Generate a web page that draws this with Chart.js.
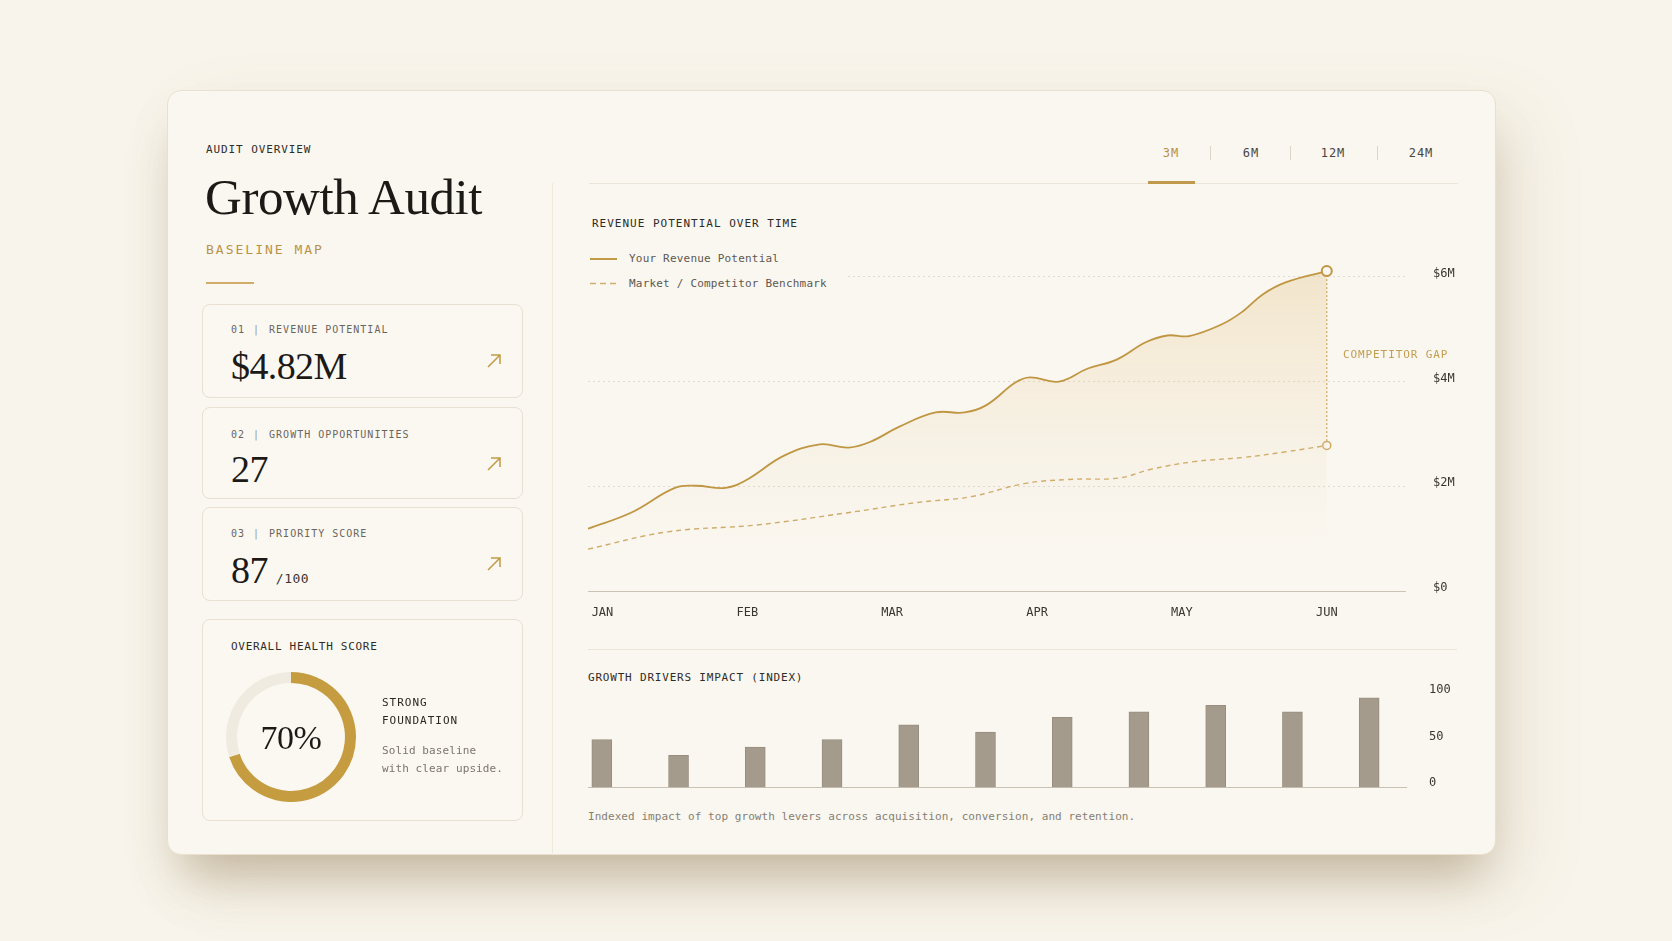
<!DOCTYPE html>
<html>
<head>
<meta charset="utf-8">
<title>Growth Audit</title>
<script src="https://cdn.jsdelivr.net/npm/chart.js@4.4.1/dist/chart.umd.min.js"></script>
<style>
  html, body { margin: 0; padding: 0; }
  body {
    width: 1672px; height: 941px; position: relative; overflow: hidden;
    background: #f8f4eb;
    font-family: "DejaVu Sans Mono", monospace;
    color: #2f2c27;
  }
  .abs { position: absolute; white-space: nowrap; }
  .card {
    position: absolute; left: 167px; top: 90px; width: 1329px; height: 765px;
    background: #faf7f0; border: 1px solid #e9e1cf; border-radius: 14px; box-sizing: border-box;
    box-shadow: 0 34px 46px -14px rgba(120, 95, 50, 0.36), 24px 26px 70px rgba(150, 120, 70, 0.12);
  }
  .mono11 { font-size: 11px; line-height: 14px; letter-spacing: 0.9px; }
  .serif { font-family: "Liberation Serif", "DejaVu Serif", serif; line-height: 1; color: #1c1a17; }
  .box {
    position: absolute; left: 202px; width: 321px; box-sizing: border-box;
    border: 1px solid #e8e0d0; border-radius: 8px; background: #fbf8f2;
  }
  .box .lbl { position: absolute; left: 28px; font-size: 10px; line-height: 14px; letter-spacing: 1px; color: #6b655c; }
  .box .lbl .sep { margin: 0 9px 0 8px; color: #9a9388; }
  .box .val { position: absolute; left: 28px; font-size: 38px; letter-spacing: -0.6px; }
  .box svg { position: absolute; left: 283px; }
  .tab { position: absolute; top: 146px; font-size: 12px; line-height: 14px; letter-spacing: 1px; color: #4a463f; transform: translateX(-50%); }
  .tsep { position: absolute; top: 146px; width: 1px; height: 14px; background: #ddd5c6; }
  .hrule { position: absolute; height: 1px; background: #ebe5d9; }
</style>
</head>
<body>
<div class="card"></div>

<!-- left column -->
<div class="abs mono11" style="left:206px; top:143px;">AUDIT OVERVIEW</div>
<div class="abs serif" style="left:205px; top:172px; font-size:51px; letter-spacing:-0.4px;">Growth Audit</div>
<div class="abs" style="left:206px; top:242px; font-size:13px; line-height:16px; letter-spacing:2px; color:#b8934a;">BASELINE MAP</div>
<div class="abs" style="left:206px; top:282px; width:48px; height:2px; background:#cfad68;"></div>

<div class="box" style="top:304px; height:94px;">
  <div class="lbl" style="top:18px;">01<span class="sep">|</span>REVENUE POTENTIAL</div>
  <div class="val serif" style="top:42px;">$4.82M</div>
  <svg width="16" height="16" style="top:48px;" viewBox="0 0 16 16"><path d="M2 14 L14 2 M5 2 H14 V11" fill="none" stroke="#c29a45" stroke-width="1.5"/></svg>
</div>
<div class="box" style="top:407px; height:92px;">
  <div class="lbl" style="top:20px;">02<span class="sep">|</span>GROWTH OPPORTUNITIES</div>
  <div class="val serif" style="top:42px;">27</div>
  <svg width="16" height="16" style="top:48px;" viewBox="0 0 16 16"><path d="M2 14 L14 2 M5 2 H14 V11" fill="none" stroke="#c29a45" stroke-width="1.5"/></svg>
</div>
<div class="box" style="top:507px; height:94px;">
  <div class="lbl" style="top:19px;">03<span class="sep">|</span>PRIORITY SCORE</div>
  <div class="val serif" style="top:43px;">87<span style="font-family:'DejaVu Sans Mono',monospace; font-size:13px; letter-spacing:0.5px; margin-left:8px; color:#3a362f;">/100</span></div>
  <svg width="16" height="16" style="top:48px;" viewBox="0 0 16 16"><path d="M2 14 L14 2 M5 2 H14 V11" fill="none" stroke="#c29a45" stroke-width="1.5"/></svg>
</div>
<div class="box" style="top:619px; height:202px;">
  <div class="abs mono11" style="left:28px; top:20px; letter-spacing:0.7px;">OVERALL HEALTH SCORE</div>
  <canvas id="healthChart" width="130" height="130" style="position:absolute; left:23px; top:52px;"></canvas>
  <div class="abs serif" style="left:23px; width:130px; text-align:center; top:101px; font-size:34px; letter-spacing:-0.5px;">70%</div>
  <div class="abs mono11" style="left:179px; top:74px; letter-spacing:1px; color:#2b2823; line-height:18px;">STRONG<br>FOUNDATION</div>
  <div class="abs" style="left:179px; top:122px; font-size:11px; line-height:18px; letter-spacing:0.1px; color:#7b756b;">Solid baseline<br>with clear upside.</div>
</div>

<!-- divider -->
<div class="abs" style="left:552px; top:183px; width:1px; height:672px; background:#efe9de;"></div>

<!-- tabs -->
<div class="tab" style="left:1171px; color:#b8913e;">3M</div>
<div class="tsep" style="left:1210px;"></div>
<div class="tab" style="left:1251px;">6M</div>
<div class="tsep" style="left:1290px;"></div>
<div class="tab" style="left:1333px;">12M</div>
<div class="tsep" style="left:1377px;"></div>
<div class="tab" style="left:1421px;">24M</div>
<div class="hrule" style="left:589px; top:183px; width:869px;"></div>
<div class="abs" style="left:1148px; top:181px; width:47px; height:3px; background:#c09a4c;"></div>

<!-- revenue chart -->
<div class="abs mono11" style="left:592px; top:217px; letter-spacing:1px;">REVENUE POTENTIAL OVER TIME</div>
<canvas id="revenueChart" width="882" height="392" style="position:absolute; left:588px; top:233px;"></canvas>
<div class="abs" style="left:588px; top:249px; width:258px; height:44px; background:#faf7f0;">
  <div class="abs" style="left:2px; top:9px; width:27px; height:2px; background:#c29a45;"></div>
  <div class="abs" style="left:41px; top:3px; font-size:11px; line-height:14px; letter-spacing:0.2px; color:#5d5850;">Your Revenue Potential</div>
  <svg class="abs" style="left:2px; top:33px;" width="28" height="3"><line x1="0" y1="1.5" x2="28" y2="1.5" stroke="#d1ae6e" stroke-width="1.5" stroke-dasharray="6 4"/></svg>
  <div class="abs" style="left:41px; top:28px; font-size:11px; line-height:14px; letter-spacing:0.2px; color:#5d5850;">Market / Competitor Benchmark</div>
</div>
<div class="abs mono11" style="left:1343px; top:348px; color:#c39d50;">COMPETITOR GAP</div>

<!-- drivers chart -->
<div class="hrule" style="left:588px; top:649px; width:869px;"></div>
<div class="abs mono11" style="left:588px; top:671px; letter-spacing:0.8px;">GROWTH DRIVERS IMPACT (INDEX)</div>
<canvas id="driversChart" width="882" height="118" style="position:absolute; left:588px; top:677px;"></canvas>
<div class="abs" style="left:588px; top:810px; font-size:11px; line-height:14px; letter-spacing:0.05px; color:#857f75;">Indexed impact of top growth levers across acquisition, conversion, and retention.</div>

<script>
// ---- data ----
const months = ['JAN', 'FEB', 'MAR', 'APR', 'MAY', 'JUN'];

// revenue potential ($M), sampled along the month axis (0 = JAN ... 5 = JUN)
const revenueTimes = [-0.1, 0.2, 0.5, 0.65, 0.85, 1.0, 1.25, 1.5, 1.7, 1.85, 2.05, 2.3, 2.5, 2.65,
  2.85, 2.95, 3.15, 3.35, 3.55, 3.75, 3.9, 4.05, 4.28, 4.42, 4.56, 4.72, 5.0];
const revenue = [1.19, 1.50, 1.97, 2.01, 1.97, 2.13, 2.58, 2.80, 2.74, 2.85, 3.14, 3.41, 3.41, 3.55,
  3.98, 4.08, 4.00, 4.25, 4.42, 4.75, 4.88, 4.87, 5.10, 5.34, 5.67, 5.90, 6.11];

// market / competitor benchmark ($M)
const benchmarkTimes = [-0.1, 0.45, 1.06, 1.68, 2.17, 2.54, 2.91, 3.21, 3.57, 3.78, 4.08, 4.42, 4.72, 5.0];
const benchmark = [0.80, 1.13, 1.26, 1.49, 1.69, 1.80, 2.05, 2.13, 2.16, 2.32, 2.47, 2.55, 2.66, 2.78];

const revenueTicks = [0, 2, 4, 6];

// growth drivers impact index
const driverImpact = [52, 35, 44, 52, 68, 60, 76, 82, 89, 82, 97];

// overall health score
const healthScore = 70;

const GOLD = '#c09643';
const CARD = '#faf7f0';
const monoFont = { family: 'DejaVu Sans Mono', size: 12 };

Chart.defaults.animation = false;
Chart.defaults.font.family = 'DejaVu Sans Mono';
Chart.defaults.plugins.legend.display = false;
Chart.defaults.plugins.tooltip.enabled = false;

// ---- health donut ----
new Chart(document.getElementById('healthChart'), {
    type: 'doughnut',
    data: {
        datasets: [{
            data: [healthScore, 100 - healthScore],
            backgroundColor: ['#c59c40', '#f0ebe0'],
            borderWidth: 0
        }]
    },
    options: {
        responsive: false,
        cutout: '83%',
        events: []
    }
});

// ---- revenue chart ----
// dotted "competitor gap" connector between the two end points
const gapLine = {
    id: 'gapLine',
    beforeDatasetsDraw(chart) {
        const a = chart.getDatasetMeta(0).data;
        const b = chart.getDatasetMeta(1).data;
        const p1 = a[a.length - 1], p2 = b[b.length - 1];
        const c = chart.ctx;
        c.save();
        c.strokeStyle = '#c9a35a';
        c.lineWidth = 1.2;
        c.setLineDash([2, 2]);
        c.beginPath();
        c.moveTo(p1.x, p1.y);
        c.lineTo(p2.x, p2.y);
        c.stroke();
        c.restore();
    }
};

const lastOnly = (r) => (ctx) => ctx.dataIndex === ctx.dataset.data.length - 1 ? r : 0;

new Chart(document.getElementById('revenueChart'), {
    type: 'line',
    data: {
        datasets: [{
            label: 'Your Revenue Potential',
            data: revenueTimes.map((t, i) => ({ x: t, y: revenue[i] })),
            borderColor: GOLD,
            borderWidth: 1.8,
            tension: 0.4,
            fill: 'origin',
            backgroundColor: (ctx) => {
                const chart = ctx.chart;
                if (!chart.chartArea) return 'rgba(0,0,0,0)';
                const y = chart.scales.y;
                const g = chart.ctx.createLinearGradient(0, y.getPixelForValue(6), 0, y.getPixelForValue(0.8));
                g.addColorStop(0, 'rgba(226, 192, 130, 0.32)');
                g.addColorStop(0.55, 'rgba(232, 205, 155, 0.15)');
                g.addColorStop(1, 'rgba(240, 222, 190, 0)');
                return g;
            },
            pointRadius: lastOnly(5),
            pointBackgroundColor: CARD,
            pointBorderColor: GOLD,
            pointBorderWidth: 2
        }, {
            label: 'Market / Competitor Benchmark',
            data: benchmarkTimes.map((t, i) => ({ x: t, y: benchmark[i] })),
            borderColor: '#cea966',
            borderWidth: 1.4,
            borderDash: [5, 4],
            tension: 0.4,
            fill: false,
            pointRadius: lastOnly(4),
            pointBackgroundColor: CARD,
            pointBorderColor: '#cfa963',
            pointBorderWidth: 1.5
        }]
    },
    options: {
        responsive: false,
        events: [],
        layout: { padding: 0, autoPadding: false },
        scales: {
            x: {
                type: 'linear',
                min: -0.1,
                max: 5.54,
                grid: { display: true, color: 'transparent', drawTicks: true, tickLength: 15, tickColor: 'transparent' },
                border: { color: '#cbc4b6', width: 1 },
                ticks: {
                    stepSize: 1,
                    includeBounds: false,
                    padding: 0,
                    maxRotation: 0,
                    autoSkip: false,
                    color: '#3a3630',
                    font: monoFont,
                    callback: (v) => months[v] || ''
                },
                afterFit: (s) => { s.height = 34; }
            },
            y: {
                position: 'right',
                min: 0,
                max: 6.7,
                afterBuildTicks: (s) => { s.ticks = revenueTicks.map(v => ({ value: v })); },
                grid: {
                    color: 'rgba(175, 165, 145, 0.35)',
                    drawTicks: true,
                    tickLength: 28,
                    tickColor: 'transparent',
                    lineWidth: 1
                },
                border: { display: false, dash: [2, 3] },
                ticks: {
                    padding: 0,
                    labelOffset: -3,
                    color: '#3a3630',
                    font: monoFont,
                    callback: (v) => '$' + v + (v ? 'M' : '')
                },
                afterFit: (s) => { s.width = 65; }
            }
        }
    },
    plugins: [gapLine]
});

// ---- growth drivers chart ----
new Chart(document.getElementById('driversChart'), {
    type: 'bar',
    data: {
        datasets: [{
            data: driverImpact.map((v, i) => ({ x: i, y: v })),
            backgroundColor: '#a49b8c',
            borderColor: '#978e7f',
            borderWidth: 1,
            barThickness: 20
        }]
    },
    options: {
        responsive: false,
        events: [],
        layout: { padding: 0, autoPadding: false },
        scales: {
            x: {
                type: 'linear',
                offset: false,
                min: -0.18,
                max: 10.48,
                grid: { display: false, drawTicks: false },
                border: { color: '#c9c2b4', width: 1 },
                ticks: { display: false },
                afterFit: (s) => { s.height = 2; }
            },
            y: {
                position: 'right',
                min: 0,
                max: 111.8,
                grid: { display: true, color: 'transparent', drawTicks: true, tickLength: 23, tickColor: 'transparent' },
                border: { display: false },
                ticks: {
                    stepSize: 50,
                    includeBounds: false,
                    padding: 0,
                    labelOffset: -5,
                    color: '#3a3630',
                    font: monoFont
                },
                afterFit: (s) => { s.width = 64; }
            }
        }
    }
});
</script>
</body>
</html>
